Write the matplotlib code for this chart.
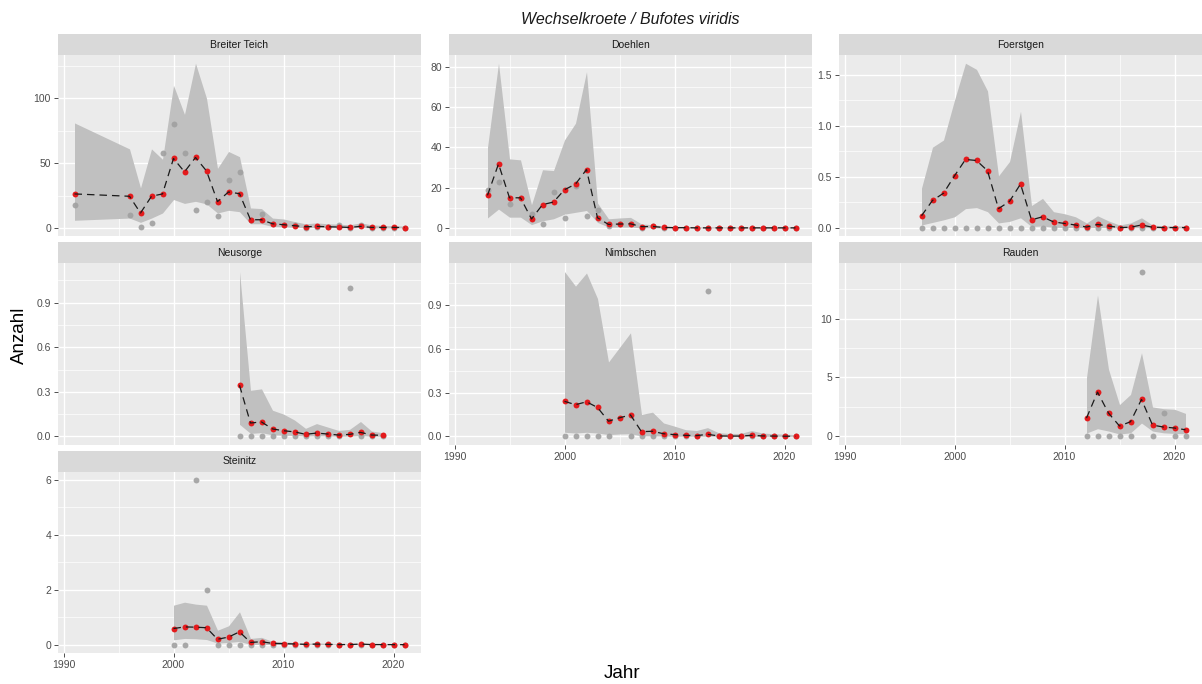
import numpy as np
import matplotlib
matplotlib.use("Agg")
import matplotlib.pyplot as plt
from matplotlib.ticker import MultipleLocator

plt.rcParams['font.family'] = ['Liberation Sans', 'DejaVu Sans']

nan = np.nan

# Breiter Teich
bt_years = [1991, 1996, 1997, 1998, 1999, 2000, 2001, 2002, 2003, 2004, 2005, 2006, 2007, 2008,
            2009, 2010, 2011, 2012, 2013, 2014, 2015, 2016, 2017, 2018, 2019, 2020, 2021]
bt_obs = [18, 10, 1, 4, 58, 80, 58, 14, 20, 9, 37, 43, 6, 11, 3, 2, 2, 0, 1, 1, 2, 0, 2, 0, 0, 0, 0]
bt_est = [26.3, 24.5, 11.6, 24.5, 26.3, 53.6, 43.3, 54.4, 44.0, 20.4, 27.8, 26.5, 6.4, 6.4,
          3.3, 2.6, 1.8, 1.0, 1.3, 1.0, 0.8, 0.5, 1.3, 0.5, 0.5, 0.5, 0.4]
bt_lo = [6, 7.7, 4.4, 7.7, 11.6, 22, 19, 20.6, 18.6, 11.6, 13.7, 12.6, 3.3, 3.3,
         1.2, 1.0, 0.6, 0.3, 0.4, 0.3, 0.2, 0.1, 0.4, 0.1, 0.1, 0.1, 0.1]
bt_hi = [81, 61, 31, 61, 53, 110, 87.6, 127, 100, 46, 59, 55, 15.5, 15,
         7.7, 7, 5, 3.3, 4, 3.3, 3, 2.5, 4, 2.5, 2, 1.8, 1.5]

# Doehlen
do_years = list(range(1993, 2022))
do_obs = [19, 23, 12, 15, 7, 2, 18, 5, 21, 6, 9, 1, 2, 2, 0, 1, 0, 0, 0, 0, 0, 0, 0, 0, 0, 0, 0, 0, 0]
do_est = [16.2, 31.8, 15, 15, 4.5, 11.6, 12.9, 19, 21.8, 29, 5.1, 1.8, 2, 2.1, 0.7, 0.8, 0.3,
          0.2, 0.2, 0.1, 0.1, 0.1, 0.1, 0.1, 0.1, 0.1, 0.1, 0.1, 0.1]
do_lo = [5, 9.4, 5.4, 5.4, 1.7, 3.6, 4.6, 6.9, 7.8, 8.7, 2.8, 0.5, 0.5, 0.5, 0.1, 0.1, 0.05,
         0.03, 0.03, 0.02, 0.02, 0.02, 0.02, 0.02, 0.02, 0.02, 0.02, 0.02, 0.02]
do_hi = [40, 81.7, 34.3, 33.8, 11.6, 28.9, 28.5, 43.7, 52, 77.5, 12.4, 4.6, 5, 5.3, 2, 1.7, 1,
         0.8, 0.8, 0.6, 0.6, 0.6, 0.6, 0.6, 0.6, 0.6, 0.6, 0.6, 0.6]

# Foerstgen
fo_years = list(range(1997, 2022))
fo_obs = [0] * 25
fo_est = [0.12, 0.27, 0.34, 0.51, 0.67, 0.66, 0.56, 0.19, 0.26, 0.43, 0.08, 0.11, 0.06, 0.045,
          0.03, 0.01, 0.035, 0.02, 0.005, 0.008, 0.03, 0.008, 0.005, 0.005, 0.005]
fo_lo = [0.03, 0.055, 0.08, 0.11, 0.19, 0.2, 0.16, 0.05, 0.065, 0.1, 0.015, 0.02, 0.008, 0.006,
         0.004, 0.002, 0.005, 0.003, 0.001, 0.001, 0.004, 0.001, 0.001, 0.001, 0.001]
fo_hi = [0.39, 0.79, 0.86, 1.25, 1.61, 1.55, 1.34, 0.51, 0.65, 1.14, 0.22, 0.29, 0.16, 0.14,
         0.11, 0.05, 0.12, 0.07, 0.03, 0.05, 0.10, 0.03, 0.02, 0.02, 0.02]

# Neusorge
ne_years = list(range(2006, 2020))
ne_obs = [0, 0, 0, 0, 0, 0, 0, 0, 0, 0, 1, 0, 0, 0]
ne_est = [0.344, 0.09, 0.097, 0.05, 0.038, 0.03, 0.014, 0.022, 0.016, 0.009, 0.013, 0.027, 0.009, 0.007]
ne_lo = [0.081, 0.02, 0.025, 0.01, 0.008, 0.006, 0.002, 0.004, 0.003, 0.001, 0.002, 0.005, 0.001, 0.001]
ne_hi = [1.11, 0.31, 0.32, 0.176, 0.15, 0.11, 0.054, 0.086, 0.063, 0.04, 0.047, 0.10, 0.036, 0.025]

# Nimbschen
ni_years = list(range(2000, 2022))
ni_obs = [0, 0, 0, 0, 0, nan, 0, 0, 0, 0, 0, 0, 0, 1, 0, 0, 0, 0, 0, 0, 0, 0]
ni_est = [0.24, 0.217, 0.237, 0.198, 0.104, 0.127, 0.147, 0.032, 0.035, 0.018, 0.012, 0.007,
          0.005, 0.014, 0.003, 0.002, 0.002, 0.007, 0.003, 0.002, 0.001, 0.001]
ni_lo = [0.028, 0.023, 0.028, 0.023, 0.012, 0.016, 0.018, 0.003, 0.003, 0.002, 0.001, 0.001,
         0.0005, 0.001, 0.0003, 0.0002, 0.0002, 0.0005, 0.0003, 0.0002, 0.0001, 0.0001]
ni_hi = [1.13, 1.03, 1.12, 0.945, 0.51, 0.61, 0.71, 0.15, 0.166, 0.092, 0.07, 0.046,
         0.04, 0.06, 0.025, 0.02, 0.02, 0.04, 0.023, 0.018, 0.015, 0.012]

# Rauden
ra_years = list(range(2012, 2022))
ra_obs = [0, 0, 0, 0, 0, 14, 0, 2, 0, 0]
ra_est = [1.55, 3.76, 1.98, 0.88, 1.24, 3.14, 0.96, 0.79, 0.71, 0.56]
ra_lo = [0.28, 0.65, 0.45, 0.2, 0.3, 1.13, 0.45, 0.3, 0.25, 0.22]
ra_hi = [5.0, 12.0, 5.7, 2.7, 3.56, 7.1, 2.5, 2.35, 2.3, 1.95]

# Steinitz
st_years = list(range(2000, 2022))
st_obs = [0, 0, 6, 2, 0, 0, 0, 0, 0, 0, 0, 0, 0, 0, 0, 0, 0, 0, 0, 0, 0, 0]
st_est = [0.59, 0.65, 0.64, 0.62, 0.2, 0.28, 0.47, 0.085, 0.11, 0.05, 0.04, 0.03, 0.015, 0.025,
          0.015, 0.008, 0.008, 0.025, 0.008, 0.006, 0.005, 0.005]
st_lo = [0.18, 0.23, 0.22, 0.19, 0.06, 0.085, 0.12, 0.01, 0.015, 0.006, 0.005, 0.004, 0.002,
         0.003, 0.002, 0.001, 0.001, 0.003, 0.001, 0.001, 0.001, 0.001]
st_hi = [1.44, 1.55, 1.48, 1.44, 0.53, 0.69, 1.2, 0.23, 0.27, 0.12, 0.11, 0.08, 0.05, 0.07,
         0.05, 0.03, 0.03, 0.06, 0.03, 0.02, 0.02, 0.02]

panels = [
    ("Breiter Teich", bt_years, bt_obs, bt_est, bt_lo, bt_hi, 50, 0, 0),
    ("Doehlen", do_years, do_obs, do_est, do_lo, do_hi, 20, 0, 1),
    ("Foerstgen", fo_years, fo_obs, fo_est, fo_lo, fo_hi, 0.5, 0, 2),
    ("Neusorge", ne_years, ne_obs, ne_est, ne_lo, ne_hi, 0.3, 1, 0),
    ("Nimbschen", ni_years, ni_obs, ni_est, ni_lo, ni_hi, 0.3, 1, 1),
    ("Rauden", ra_years, ra_obs, ra_est, ra_lo, ra_hi, 5, 1, 2),
    ("Steinitz", st_years, st_obs, st_est, st_lo, st_hi, 2, 2, 0),
]
bottom_panels = ["Nimbschen", "Rauden", "Steinitz"]

W, H = 1202, 684
fig = plt.figure(figsize=(W / 100, H / 100), dpi=100)


def box(l, t, r, b):
    return [l / W, 1 - b / H, (r - l) / W, (b - t) / H]


col_x = [(58, 421), (449, 812), (839, 1202)]
row_top = [34, 242.3, 450.7]
strip_h = 21
panel_h = 181.3

for name, yrs, obs, est, lo, hi, step, r, c in panels:
    l, rr = col_x[c]
    t = row_top[r]
    # strip
    sax = fig.add_axes(box(l, t, rr, t + strip_h))
    sax.set_facecolor('#D9D9D9')
    sax.set_xticks([])
    sax.set_yticks([])
    for s in sax.spines.values():
        s.set_visible(False)
    sax.text(0.5, 0.5, name, ha='center', va='center', fontsize=7.5, color='#1A1A1A',
             transform=sax.transAxes)

    ax = fig.add_axes(box(l, t + strip_h, rr, t + strip_h + panel_h))
    ax.set_facecolor('#EBEBEB')
    for s in ax.spines.values():
        s.set_visible(False)

    yrs = np.array(yrs, dtype=float)
    ax.fill_between(yrs, lo, hi, color='#C0C0C0', lw=0, zorder=2)
    ax.scatter(yrs, obs, s=18, color='#A0A0A0', alpha=0.9, lw=0, zorder=3)
    ax.scatter(yrs, est, s=18, color='#E41A1C', lw=0, zorder=4)
    ax.plot(yrs, est, color='#1A1A1A', lw=0.9, dashes=(6, 4), zorder=5)

    allv = np.concatenate([np.array(obs, float), lo, hi, est])
    vmin, vmax = np.nanmin(allv), np.nanmax(allv)
    pad = 0.05 * (vmax - vmin)
    ax.set_ylim(vmin - pad, vmax + pad)
    ax.set_xlim(1989.5, 2022.5)

    ax.xaxis.set_major_locator(MultipleLocator(10))
    ax.xaxis.set_minor_locator(MultipleLocator(5))
    ax.yaxis.set_major_locator(MultipleLocator(step))
    ax.yaxis.set_minor_locator(MultipleLocator(step / 2))
    ax.grid(which='major', color='white', lw=1.0, zorder=0)
    ax.grid(which='minor', color='white', lw=0.5, zorder=0)
    ax.set_axisbelow(True)

    if step < 1:
        ax.yaxis.set_major_formatter(matplotlib.ticker.FormatStrFormatter('%.1f'))
    else:
        ax.yaxis.set_major_formatter(matplotlib.ticker.FormatStrFormatter('%d'))

    ax.tick_params(axis='y', which='major', length=3, width=0.6, color='#333333',
                   labelsize=7.5, labelcolor='#4D4D4D', pad=2)
    ax.tick_params(which='minor', length=0)
    if name in bottom_panels:
        ax.tick_params(axis='x', which='major', length=3, width=0.6, color='#333333',
                       labelsize=7.5, labelcolor='#4D4D4D', pad=2)
    else:
        ax.tick_params(axis='x', which='major', length=0, labelbottom=False)

fig.text(630 / W, 1 - 19 / H, "Wechselkroete / Bufotes viridis", ha='center', va='center',
         fontsize=11.5, style='italic', color='#1A1A1A')
fig.text(19 / W, 1 - 335 / H, "Anzahl", ha='center', va='center', rotation=90,
         fontsize=13.5, color='black')
fig.text(622 / W, 1 - 674 / H, "Jahr", ha='center', va='center', fontsize=13.5, color='black')

fig.savefig("out.png", dpi=100)
